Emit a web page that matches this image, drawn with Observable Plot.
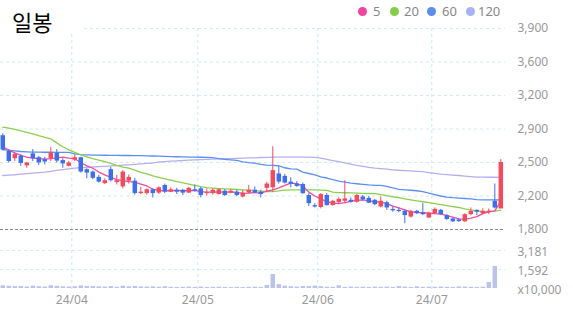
<!DOCTYPE html>
<html><head><meta charset="utf-8">
<script src="https://cdn.jsdelivr.net/npm/d3@7"></script>
<script src="https://cdn.jsdelivr.net/npm/@observablehq/plot@0.6"></script>
<style>
body{margin:0;background:#fff;}
#wrap{position:relative;width:573px;height:315px;overflow:hidden;font-family:"Noto Sans",sans-serif;background:#fff;}
#wrap svg{position:absolute;left:0;top:0;}
#titlebox{position:absolute;left:0;top:0;width:83px;height:33px;background:#fff;}
#title{position:absolute;left:12px;top:10px;font-family:"Noto Sans CJK KR",sans-serif;font-size:22px;line-height:22px;color:#000;}
.lg{position:absolute;top:3px;font-size:13px;line-height:16px;color:#888;}
.dot{position:absolute;top:7px;width:9px;height:9px;border-radius:50%;}
</style></head>
<body><div id="wrap"></div>
<script>
// ---- data ----
const dates = ["2024-03-14","2024-03-15","2024-03-18","2024-03-19","2024-03-20","2024-03-21","2024-03-22","2024-03-25","2024-03-26","2024-03-27","2024-03-28","2024-03-29",
"2024-04-01","2024-04-02","2024-04-03","2024-04-04","2024-04-05","2024-04-08","2024-04-09","2024-04-11","2024-04-12","2024-04-15","2024-04-16","2024-04-17","2024-04-18","2024-04-19","2024-04-22","2024-04-23","2024-04-24","2024-04-25","2024-04-26","2024-04-29","2024-04-30",
"2024-05-02","2024-05-03","2024-05-07","2024-05-08","2024-05-09","2024-05-10","2024-05-13","2024-05-14","2024-05-16","2024-05-17","2024-05-20","2024-05-21","2024-05-22","2024-05-23","2024-05-24","2024-05-27","2024-05-28","2024-05-29","2024-05-30","2024-05-31",
"2024-06-03","2024-06-04","2024-06-05","2024-06-07","2024-06-10","2024-06-11","2024-06-12","2024-06-13","2024-06-14","2024-06-17","2024-06-18","2024-06-19","2024-06-20","2024-06-21","2024-06-24","2024-06-25","2024-06-26","2024-06-27","2024-06-28",
"2024-07-01","2024-07-02","2024-07-03","2024-07-04","2024-07-05","2024-07-08","2024-07-09","2024-07-10","2024-07-11","2024-07-12","2024-07-15","2024-07-16"];
const open  = [2780,2615,2540,2565,2465,2590,2550,2530,2540,2595,2520,2460,2525,2550,2425,2400,2345,2280,2425,2290,2245,2305,2305,2175,2175,2215,2180,2260,2190,2210,2210,2180,2215,2225,2175,2175,2165,2200,2180,2190,2140,2180,2210,2190,2230,2235,2380,2355,2295,2275,2270,2155,2050,2030,2155,2050,2080,2095,2105,2085,2140,2125,2105,2035,2080,2010,2000,1990,1930,1990,1975,1920,1965,2000,1945,1910,1900,1880,1955,2000,1965,1980,2095,2015];
const high  = [2800,2630,2590,2580,2500,2635,2565,2555,2655,2635,2540,2510,2580,2555,2435,2410,2365,2330,2450,2365,2415,2370,2335,2240,2225,2225,2245,2275,2235,2230,2220,2240,2265,2240,2225,2225,2225,2215,2220,2210,2210,2260,2245,2210,2295,2665,2460,2375,2340,2300,2285,2175,2070,2175,2175,2105,2130,2310,2130,2165,2155,2145,2115,2140,2095,2035,2025,2005,2000,2000,2070,1980,2025,2010,1955,1920,1910,1965,2025,2005,2015,2015,2275,2530];
const low   = [2620,2495,2510,2460,2440,2510,2470,2475,2510,2495,2440,2455,2510,2390,2330,2320,2285,2270,2295,2265,2225,2275,2160,2165,2160,2130,2165,2175,2185,2165,2155,2175,2190,2130,2150,2160,2160,2145,2175,2145,2130,2175,2175,2130,2185,2190,2275,2275,2235,2240,2165,2040,2025,2015,2045,2045,2070,2070,2075,2075,2095,2070,2050,2025,2000,1980,1975,1860,1920,1955,1945,1915,1955,1945,1895,1875,1875,1875,1945,1945,1955,1955,2015,2015];
const close = [2630,2510,2585,2490,2495,2540,2495,2505,2600,2515,2485,2495,2550,2400,2390,2335,2295,2310,2310,2310,2400,2345,2175,2190,2215,2175,2235,2190,2215,2190,2180,2230,2200,2155,2185,2210,2215,2155,2200,2155,2180,2210,2180,2165,2275,2415,2295,2285,2270,2250,2175,2070,2035,2165,2050,2095,2115,2120,2085,2155,2110,2075,2060,2095,2025,1995,1988,1945,1990,1965,1955,1970,2010,1955,1905,1880,1882,1955,1990,1980,1990,1992,2025,2500];
const volume = [220,180,160,170,130,200,150,120,230,180,140,120,150,210,170,160,140,120,160,110,190,140,170,130,120,140,110,150,100,90,100,120,90,120,90,100,110,90,80,90,80,100,110,90,250,1170,320,200,150,120,170,160,200,150,110,100,230,90,120,100,110,90,120,100,120,90,160,120,90,140,100,110,100,120,100,90,130,120,100,90,110,500,1840];
const ma5   = [2665,2630,2600,2575,2556,2545,2540,2535,2540,2548,2556,2545,2539,2500,2465,2440,2400,2370,2345,2322,2310,2300,2294,2275,2255,2220,2208,2205,2205,2208,2205,2205,2208,2195,2190,2190,2192,2190,2192,2188,2178,2180,2186,2180,2200,2215,2235,2260,2284,2280,2255,2190,2150,2120,2090,2075,2070,2080,2095,2105,2110,2100,2090,2085,2070,2045,2025,2005,1985,1978,1975,1970,1965,1962,1945,1930,1910,1905,1918,1935,1965,1985,1995,2098];
const ma20  = [2869,2858,2845,2830,2815,2800,2780,2763,2748,2705,2665,2632,2605,2580,2560,2540,2525,2508,2490,2470,2452,2441,2420,2398,2380,2360,2345,2330,2315,2300,2288,2275,2262,2248,2237,2232,2228,2225,2222,2218,2214,2210,2206,2200,2197,2196,2203,2212,2214,2215,2215,2215,2214,2212,2208,2190,2186,2184,2182,2180,2178,2176,2174,2165,2155,2142,2134,2120,2110,2100,2090,2080,2070,2060,2050,2040,2030,2015,2005,1995,1988,1985,1992,2003];
const ma60  = [2636,2628,2622,2615,2611,2608,2608,2607,2607,2606,2606,2605,2590,2582,2580,2578,2577,2576,2575,2574,2573,2573,2572,2571,2570,2568,2566,2564,2562,2560,2558,2556,2556,2555,2554,2550,2540,2532,2528,2522,2506,2498,2493,2480,2472,2469,2466,2445,2434,2430,2400,2385,2370,2350,2338,2320,2305,2294,2284,2278,2272,2266,2262,2260,2250,2235,2220,2215,2210,2205,2195,2180,2165,2150,2138,2132,2128,2124,2121,2112,2110,2110,2109,2108];
const ma120 = [2364,2368,2372,2378,2383,2389,2394,2399,2408,2417,2426,2434,2441,2445,2449,2453,2456,2460,2464,2468,2472,2476,2480,2485,2490,2495,2505,2510,2514,2518,2521,2524,2527,2530,2532,2535,2537,2539,2541,2543,2545,2548,2549,2552,2554,2556,2556,2556,2556,2556,2556,2556,2553,2545,2532,2520,2508,2495,2482,2470,2460,2450,2442,2436,2430,2424,2419,2416,2412,2408,2404,2395,2386,2378,2373,2368,2364,2358,2352,2347,2347,2346,2346,2345];
const priceTicks = [1800,2150,2500,2850,3200,3550,3900];
const priceTickLabels = ["1,800","2,200","2,500","2,900","3,200","3,600","3,900"];
const volTicks = [0,1592,3181];
const volTickLabels = ["x10,000","1,592","3,181"];
const monthStarts = ["2024-04-01","2024-05-02","2024-06-03","2024-07-01"];
const monthLabels = ["24/04","24/05","24/06","24/07"];
const legendNames = ["5","20","60","120"];
const legendColors = ["#f0449e","#86cc48","#5b8def","#a7b3f5"];
const lineColors = ["#f04aa5","#8ccf4e","#5b8ff2","#b6aef3"];
const upColor = "#f24b5e", downColor = "#3e6fea", volColor = "#bcc3ea";

// ---- build ----
const rows = dates.map((d,i)=>({i, date:d, open:open[i], high:high[i], low:low[i], close:close[i], volume:volume[i],
  ma5:ma5[i], ma20:ma20[i], ma60:ma60[i], ma120:ma120[i],
  col: close[i] >= open[i] ? upColor : downColor}));
const monthPos = monthStarts.map(m => dates.indexOf(m) - 0.5);
const xDomain = [-0.383, 83.78];
const common = {width:573, height:315, marginLeft:0, marginRight:68,
  style:{background:"transparent", fontFamily:"'Noto Sans', sans-serif", fontSize:"12px", color:"#999", overflow:"visible"}};

const price = Plot.plot({...common, marginTop:28, marginBottom:86,
  x:{domain:xDomain, axis:null},
  y:{domain:[1800,3900], axis:null},
  marks:[
    Plot.ruleY(priceTicks.slice(1), {stroke:"#d2ecef", strokeDasharray:"3,3"}),
    Plot.ruleY([priceTicks[0]], {stroke:"#888", strokeDasharray:"3,2"}),
    Plot.ruleX(monthPos, {stroke:"#c4ebee", strokeDasharray:"3,3", insetBottom:-60}),
    Plot.line(rows, {x:"i", y:"ma120", stroke:lineColors[3], strokeWidth:1.3}),
    Plot.line(rows, {x:"i", y:"ma60", stroke:lineColors[2], strokeWidth:1.3}),
    Plot.line(rows, {x:"i", y:"ma20", stroke:lineColors[1], strokeWidth:1.3}),
    Plot.line(rows, {x:"i", y:"ma5", stroke:lineColors[0], strokeWidth:1.3}),
    Plot.ruleX(rows, {x:"i", y1:"low", y2:"high", stroke:"col", strokeWidth:1}),
    Plot.ruleX(rows, {x:"i", y1:"open", y2:"close", stroke:"col", strokeWidth:4.5}),
    Plot.axisY(priceTicks, {anchor:"right", tickSize:0, tickPadding:12, label:null,
      tickFormat:d => priceTickLabels[priceTicks.indexOf(d)], fill:"#999"})
  ]});

const vol = Plot.plot({...common, marginTop:250, marginBottom:27,
  x:{domain:xDomain, axis:null},
  y:{domain:[0,3181], axis:null},
  marks:[
    Plot.ruleY(volTicks.slice(1), {stroke:"#d2ecef", strokeDasharray:"3,3"}),
    Plot.ruleX(rows, {x:"i", y1:0, y2:"volume", stroke:volColor, strokeWidth:4.5}),
    Plot.axisY(volTicks, {anchor:"right", tickSize:0, tickPadding:12, label:null, dy:2,
      tickFormat:d => volTickLabels[volTicks.indexOf(d)], fill:"#999"}),
    Plot.axisX(monthPos, {anchor:"bottom", tickSize:0, tickPadding:7, label:null,
      tickFormat:d => monthLabels[monthPos.indexOf(d)], fill:"#999"})
  ]});

const wrap = document.getElementById("wrap");
wrap.appendChild(vol);
wrap.appendChild(price);
const tb = document.createElement("div"); tb.id="titlebox"; wrap.appendChild(tb);
const t = document.createElement("div"); t.id="title"; t.textContent="일봉"; wrap.appendChild(t);
const dotX = [358, 389.5, 426.5, 465.5], txtX = [373, 404, 442, 478];
legendNames.forEach((n,k)=>{
  const d = document.createElement("div"); d.className="dot"; d.style.left=dotX[k]+"px"; d.style.background=legendColors[k]; wrap.appendChild(d);
  const s = document.createElement("div"); s.className="lg"; s.style.left=txtX[k]+"px"; s.textContent=n; wrap.appendChild(s);
});
</script></body></html>
